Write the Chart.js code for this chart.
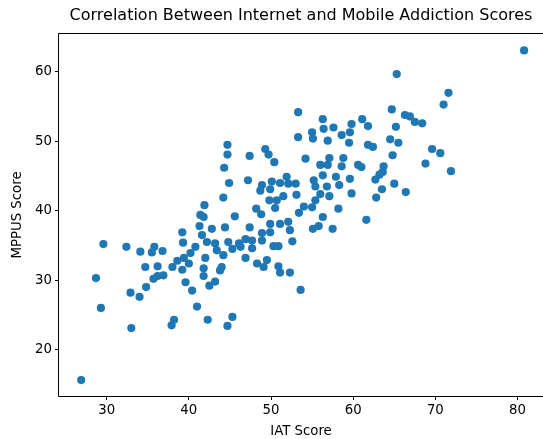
<!DOCTYPE html>
<html>
<head>
<meta charset="utf-8">
<script src="https://cdn.jsdelivr.net/npm/chart.js@4.4.1/dist/chart.umd.min.js"></script>
<style>
    html, body { margin: 0; padding: 0; background: #fff; }
    #wrap { width: 543px; height: 439px; position: relative; }
</style>
</head>
<body>
<div id="wrap"><canvas id="scatterChart"></canvas></div>
<script>
// IAT score (x) and MPPUS score (y)
const iatScores = [
    26.9, 28.7, 29.3, 29.6, 32.4, 32.9, 33.0, 34.0, 34.1, 34.7,
    34.8, 35.5, 35.8, 35.7, 36.2, 36.2, 36.8, 36.9, 37.9, 38.2,
    38.0, 38.6, 39.2, 39.3, 39.2, 39.6, 53.3, 53.3, 44.7, 44.7,
    47.4, 49.3, 49.7, 50.4, 44.3, 44.9, 47.2, 48.9, 48.7, 50.1,
    51.1, 51.9, 52.1, 53.0, 53.1, 49.9, 51.5, 44.2, 41.9, 49.8,
    50.7, 48.2, 50.5, 41.4, 41.8, 45.6, 48.8, 53.4, 41.3, 42.8,
    44.4, 47.4, 49.9, 51.1, 52.1, 41.6, 42.2, 43.2, 44.8, 46.1,
    46.9, 47.7, 48.9, 48.9, 49.9, 52.3, 50.3, 50.9, 52.6, 45.3,
    46.3, 47.7, 40.8, 40.2, 39.4, 43.4, 44.2, 42.0, 40.0, 46.9,
    48.3, 49.5, 49.1, 41.8, 44.0, 43.8, 50.9, 51.1, 52.3, 41.8,
    40.4, 42.5, 43.2, 53.6, 41.0, 42.3, 45.3, 44.7, 56.3, 61.6,
    55.1, 55.8, 57.5, 65.3, 64.7, 66.3, 66.9, 67.5, 56.3, 56.4,
    57.6, 61.1, 61.8, 59.8, 65.2, 55.0, 55.1, 58.6, 59.6, 56.9,
    59.5, 64.5, 65.5, 61.8, 62.4, 54.2, 64.8, 57.1, 58.8, 56.0,
    56.9, 58.6, 60.6, 61.0, 63.7, 63.6, 63.2, 62.7, 56.3, 57.9,
    59.6, 55.2, 55.4, 56.8, 58.3, 65.0, 63.5, 66.4, 59.8, 56.0,
    57.1, 62.8, 55.4, 54.0, 55.0, 58.2, 80.8, 71.6, 71.0, 68.4,
    69.6, 70.6, 68.8, 71.9
];
const mppusScores = [
    15.6, 30.3, 26.0, 35.2, 34.8, 28.2, 23.1, 27.6, 34.1, 31.9,
    29.0, 34.0, 34.8, 30.2, 30.6, 32.0, 34.2, 30.7, 23.5, 24.3,
    31.9, 32.8, 36.9, 35.4, 31.5, 29.7, 54.2, 50.6, 49.5, 48.1,
    47.9, 48.9, 48.1, 47.0, 46.2, 44.0, 44.4, 43.7, 42.9, 44.2,
    44.0, 44.9, 43.9, 43.9, 42.3, 43.1, 42.1, 41.9, 40.8, 41.5,
    41.5, 40.3, 40.4, 39.4, 39.1, 39.2, 39.5, 39.7, 37.8, 37.4,
    37.6, 37.6, 38.1, 38.1, 38.4, 36.5, 35.5, 35.3, 35.5, 35.3,
    35.9, 35.7, 35.7, 36.8, 36.9, 37.2, 34.9, 34.9, 35.6, 34.5,
    34.8, 34.6, 34.8, 33.9, 33.2, 34.3, 33.6, 33.2, 32.4, 33.2,
    32.4, 32.9, 31.9, 31.7, 31.9, 31.4, 32.0, 31.1, 31.1, 30.6,
    28.5, 29.2, 29.8, 28.6, 26.2, 24.3, 24.7, 23.4, 39.1, 38.7,
    37.4, 37.8, 37.4, 59.7, 54.6, 53.8, 53.6, 52.8, 53.2, 51.8,
    52.0, 53.2, 52.2, 52.5, 52.1, 51.3, 50.4, 50.9, 51.3, 50.1,
    49.8, 50.3, 49.8, 49.5, 49.2, 47.5, 48.0, 47.6, 47.6, 46.6,
    46.6, 46.4, 46.6, 46.3, 46.4, 45.6, 45.2, 44.5, 45.1, 44.9,
    44.6, 44.4, 43.5, 43.5, 43.7, 43.9, 43.1, 42.7, 42.5, 42.4,
    42.1, 41.9, 41.5, 40.6, 40.5, 40.3, 63.1, 57.0, 55.3, 52.6,
    48.9, 48.3, 46.8, 45.7
];

const xTicks = [30, 40, 50, 60, 70, 80];
const yTicks = [20, 30, 40, 50, 60];

const fontFamily = '"DejaVu Sans", sans-serif';

// left, top and bottom spines; the right one falls just past the picture edge
const frameBox = {
    id: 'frameBox',
    afterDatasetsDraw: function (chart) {
        const a = chart.chartArea;
        const ctx = chart.ctx;
        const l = Math.round(a.left) - 0.5;
        const t = Math.round(a.top) - 0.5;
        const b = Math.round(a.bottom) + 0.5;
        ctx.save();
        ctx.strokeStyle = '#000';
        ctx.lineWidth = 1;
        ctx.beginPath();
        ctx.moveTo(chart.width, t);
        ctx.lineTo(l, t);
        ctx.lineTo(l, b);
        ctx.lineTo(chart.width, b);
        ctx.stroke();
        ctx.restore();
    }
};

document.addEventListener('DOMContentLoaded', function () {
    const points = iatScores.map((x, i) => ({ x: x, y: mppusScores[i] }));
    const ctx = document.getElementById('scatterChart').getContext('2d');

    new Chart(ctx, {
        type: 'scatter',
        data: {
            datasets: [{
                label: 'Scores',
                data: points,
                backgroundColor: '#1f77b4',
                borderWidth: 0,
                pointRadius: 4.1,
                pointHoverRadius: 4.1
            }]
        },
        options: {
            responsive: true,
            maintainAspectRatio: false,
            animation: false,
            // no extra room for point overflow, the plot box runs to the right edge
            layout: { padding: 0, autoPadding: false },
            plugins: {
                legend: { display: false },
                tooltip: { enabled: false },
                title: {
                    display: true,
                    fullSize: false,
                    text: 'Correlation Between Internet and Mobile Addiction Scores',
                    color: '#000',
                    font: { family: fontFamily, size: 16, weight: 'normal' },
                    padding: { top: 6, bottom: 8.8 }
                }
            },
            scales: {
                x: {
                    type: 'linear',
                    min: 24.2,
                    max: 83.1,
                    afterBuildTicks: function (scale) {
                        scale.ticks = xTicks.map(v => ({ value: v }));
                    },
                    afterFit: function (scale) {
                        scale.height = 43;
                        scale.paddingLeft = 0;
                        scale.paddingRight = 0;
                    },
                    grid: { drawOnChartArea: false, drawTicks: true, tickLength: 4, color: '#000' },
                    border: { display: false },
                    ticks: {
                        color: '#000',
                        padding: 3,
                        maxRotation: 0,
                        font: { family: fontFamily, size: 13.3 }
                    },
                    title: {
                        display: true,
                        text: 'IAT Score',
                        color: '#000',
                        font: { family: fontFamily, size: 13.3 },
                        padding: { top: 0, bottom: -1 }
                    }
                },
                y: {
                    type: 'linear',
                    min: 13.31,
                    max: 65.47,
                    afterBuildTicks: function (scale) {
                        scale.ticks = yTicks.map(v => ({ value: v }));
                    },
                    afterFit: function (scale) {
                        scale.width = 59;
                        scale.paddingTop = 0;
                        scale.paddingBottom = 0;
                    },
                    grid: { drawOnChartArea: false, drawTicks: true, tickLength: 4, color: '#000' },
                    border: { display: false },
                    ticks: {
                        color: '#000',
                        padding: 3,
                        font: { family: fontFamily, size: 13.3 }
                    },
                    title: {
                        display: true,
                        text: 'MPPUS Score',
                        color: '#000',
                        font: { family: fontFamily, size: 13.3 },
                        padding: { top: 10, bottom: 0 }
                    }
                }
            }
        },
        plugins: [frameBox]
    });
});
</script>
</body>
</html>
